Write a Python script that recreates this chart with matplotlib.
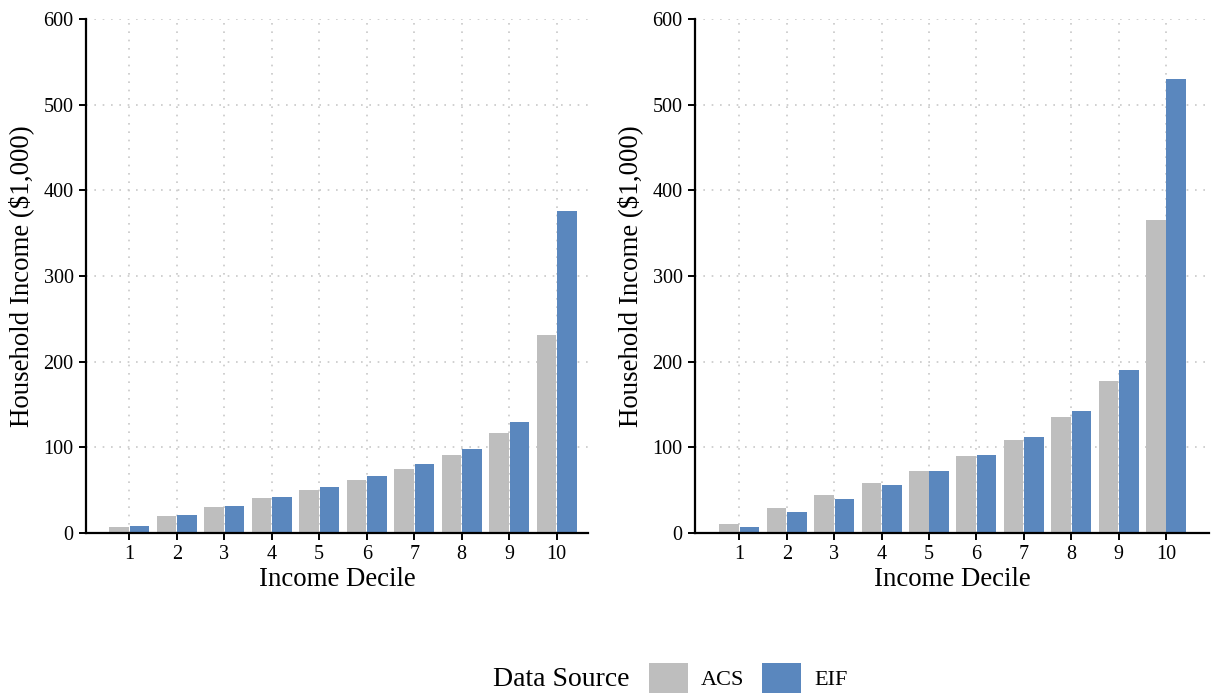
import numpy as np
import matplotlib.pyplot as plt
from matplotlib.patches import Patch

plt.rcParams['font.family'] = ['Liberation Serif', 'DejaVu Serif']

deciles = np.arange(1, 11)

# left panel
acs_left = [7.5, 19.3, 29.9, 40.6, 50.0, 61.8, 74.8, 91.3, 117.3, 230.7]
eif_left = [8.7, 20.5, 31.1, 41.7, 53.5, 66.5, 80.7, 98.4, 129.1, 375.5]

# right panel
acs_right = [11.0, 28.7, 44.0, 58.3, 72.4, 90.2, 109.0, 135.0, 177.6, 365.8]
eif_right = [7.5, 24.0, 39.4, 55.9, 72.4, 91.3, 112.6, 142.0, 190.6, 530.5]

GRAY = '#BEBEBE'
BLUE = '#5A87BE'


def panel(ax, acs, eif, xlim):
    w = 0.415
    ax.bar(deciles - 0.215, acs, width=w, color=GRAY, zorder=2)
    ax.bar(deciles + 0.215, eif, width=w, color=BLUE, zorder=2)
    ax.set_xlim(*xlim)
    ax.set_ylim(0, 600)
    ax.set_xticks(deciles)
    ax.set_yticks(np.arange(0, 601, 100))
    ax.grid(True, color='#C8C8C8', linestyle=(0, (1, 4)), linewidth=1.2, zorder=0)
    ax.set_axisbelow(True)
    for s in ['top', 'right']:
        ax.spines[s].set_visible(False)
    for s in ['left', 'bottom']:
        ax.spines[s].set_linewidth(1.6)
    ax.tick_params(axis='both', direction='out', length=5, width=1.4,
                   labelsize=14.5, pad=4)
    ax.set_xlabel('Income Decile', fontsize=19.4, labelpad=2)
    ax.set_ylabel('Household Income ($1,000)', fontsize=19.4, labelpad=7)


fig = plt.figure(figsize=(12.17, 6.98), dpi=100)
ax1 = fig.add_axes([0.0707, 0.2364, 0.4125, 0.7364])
ax2 = fig.add_axes([0.5711, 0.2364, 0.4224, 0.7364])
panel(ax1, acs_left, eif_left, (0.09, 10.66))
panel(ax2, acs_right, eif_right, (0.065, 10.91))

# legend along the bottom
fig.text(493 / 1217, 1 - 680 / 698, 'Data Source', fontsize=20,
         ha='left', va='center')
handles = [Patch(facecolor=GRAY), Patch(facecolor=BLUE)]
fig.legend(handles, ['ACS', 'EIF'], ncol=2, frameon=False, fontsize=16,
           loc='center left', bbox_to_anchor=(640 / 1217, 1 - 678 / 698),
           handlelength=1.75, handleheight=1.75, handletextpad=0.6,
           columnspacing=0.8, borderaxespad=0)

fig.savefig('out.png', dpi=100)
